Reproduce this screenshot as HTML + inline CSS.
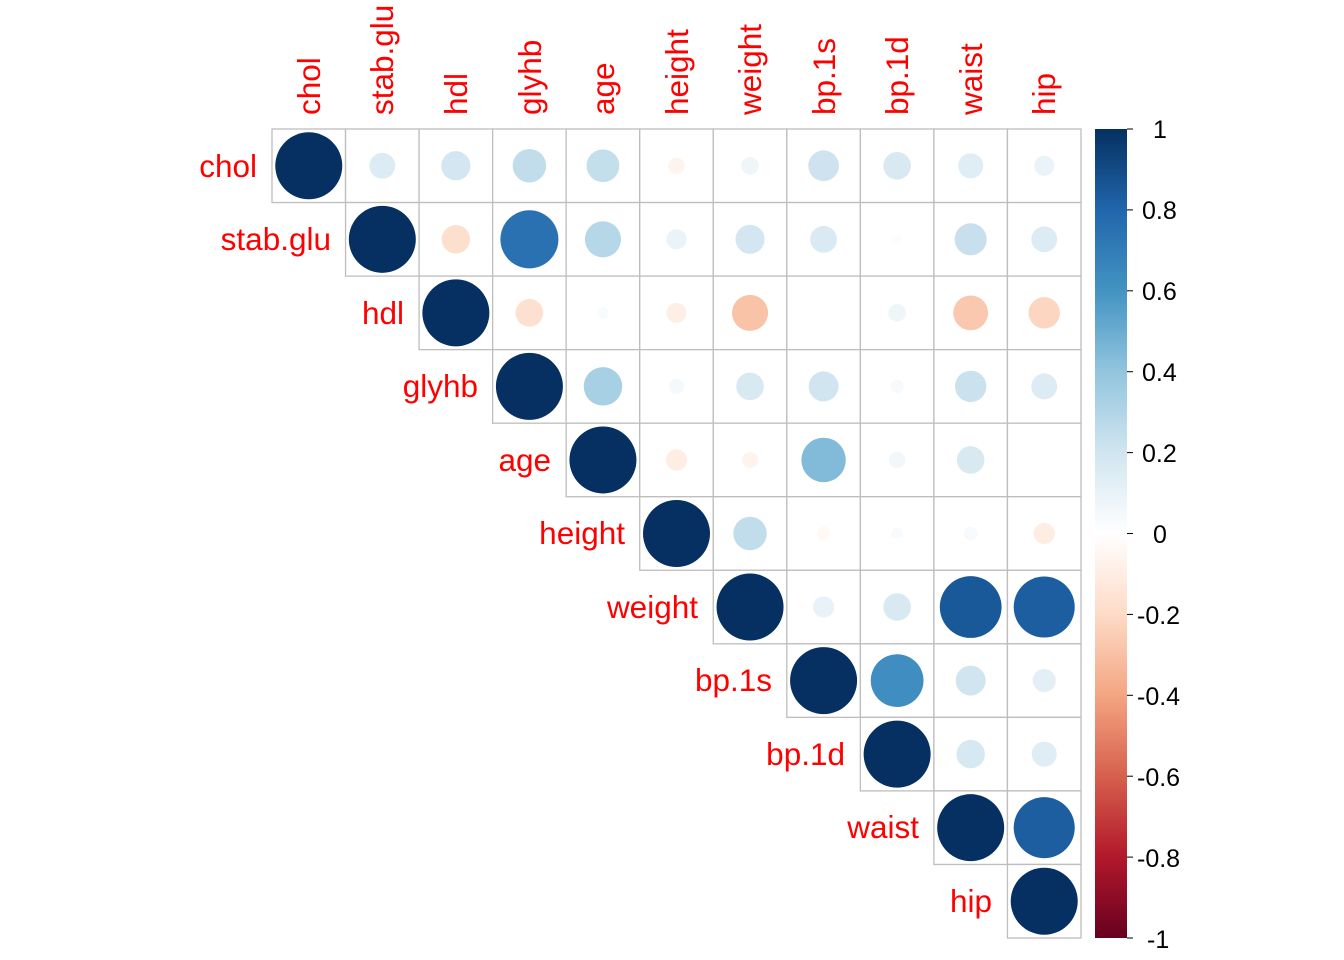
<!DOCTYPE html>
<html><head><meta charset="utf-8"><style>
html,body{margin:0;padding:0;background:#fff}
svg{display:block;font-family:"Liberation Sans",Arial,sans-serif}
.r{fill:#FF0000;font-size:31.5px}
.t{fill:#000;font-size:25px}
</style></head><body>
<svg id="s" width="1344" height="960" xmlns="http://www.w3.org/2000/svg">
<defs><linearGradient id="g" x1="0" y1="1" x2="0" y2="0">
<stop offset="0" stop-color="#67001F"/><stop offset="0.1" stop-color="#B2182B"/><stop offset="0.2" stop-color="#D6604D"/><stop offset="0.3" stop-color="#F4A582"/><stop offset="0.4" stop-color="#FDDBC7"/><stop offset="0.5" stop-color="#FFFFFF"/><stop offset="0.6" stop-color="#D1E5F0"/><stop offset="0.7" stop-color="#92C5DE"/><stop offset="0.8" stop-color="#4393C3"/><stop offset="0.9" stop-color="#2166AC"/><stop offset="1" stop-color="#053061"/></linearGradient></defs>
<g id="cells"></g>
<rect x="1095" y="129" width="32" height="809" fill="url(#g)"/>
<g stroke="#000" stroke-width="1">
<line x1="1127" y1="129" x2="1133" y2="129"/><line x1="1127" y1="209.9" x2="1133" y2="209.9"/><line x1="1127" y1="290.8" x2="1133" y2="290.8"/><line x1="1127" y1="371.7" x2="1133" y2="371.7"/><line x1="1127" y1="452.6" x2="1133" y2="452.6"/><line x1="1127" y1="533.5" x2="1133" y2="533.5"/><line x1="1127" y1="614.4" x2="1133" y2="614.4"/><line x1="1127" y1="695.3" x2="1133" y2="695.3"/><line x1="1127" y1="776.2" x2="1133" y2="776.2"/><line x1="1127" y1="857.1" x2="1133" y2="857.1"/><line x1="1127" y1="938" x2="1133" y2="938"/>
</g>
<g class="t">
<text x="1153" y="138">1</text><text x="1142" y="219">0.8</text><text x="1142" y="300">0.6</text><text x="1142" y="381">0.4</text><text x="1142" y="462">0.2</text><text x="1153" y="543">0</text><text x="1137" y="624">-0.2</text><text x="1137" y="705">-0.4</text><text x="1137" y="786">-0.6</text><text x="1137" y="867">-0.8</text><text x="1147" y="948">-1</text>
</g>
<g class="r" text-anchor="end">
<text x="257" y="177">chol</text>
<text x="331" y="250">stab.glu</text>
<text x="404" y="324">hdl</text>
<text x="478" y="397">glyhb</text>
<text x="551" y="471">age</text>
<text x="625" y="544">height</text>
<text x="698" y="618">weight</text>
<text x="772" y="691">bp.1s</text>
<text x="845" y="765">bp.1d</text>
<text x="919" y="838">waist</text>
<text x="992" y="912">hip</text>
</g>
<g class="r">
<text transform="translate(320,115) rotate(-90)">chol</text>
<text transform="translate(393,115) rotate(-90)">stab.glu</text>
<text transform="translate(467,115) rotate(-90)">hdl</text>
<text transform="translate(541,115) rotate(-90)">glyhb</text>
<text transform="translate(614,115) rotate(-90)">age</text>
<text transform="translate(688,115) rotate(-90)">height</text>
<text transform="translate(761,115) rotate(-90)">weight</text>
<text transform="translate(835,115) rotate(-90)">bp.1s</text>
<text transform="translate(908,115) rotate(-90)">bp.1d</text>
<text transform="translate(982,115) rotate(-90)">waist</text>
<text transform="translate(1055,115) rotate(-90)">hip</text>
</g>
</svg>
<script>
var M=[
[0.15,0.19,0.25,0.24,-0.06,0.07,0.21,0.17,0.14,0.09],
[-0.18,0.75,0.29,0.09,0.19,0.16,0.02,0.23,0.15],
[-0.17,0.03,-0.09,-0.29,0.01,0.07,-0.27,-0.22],
[0.33,0.05,0.17,0.2,0.04,0.22,0.15],
[-0.1,-0.06,0.44,0.06,0.17,0.0],
[0.25,-0.04,0.03,0.04,-0.1],
[0.1,0.17,0.85,0.83],
[0.62,0.2,0.12],
[0.18,0.14],
[0.83]];
var C=["#67001F","#B2182B","#D6604D","#F4A582","#FDDBC7","#FFFFFF","#D1E5F0","#92C5DE","#4393C3","#2166AC","#053061"];
function h(c){return[parseInt(c.substr(1,2),16),parseInt(c.substr(3,2),16),parseInt(c.substr(5,2),16)]}
function col(r){var p=(r+1)/2*10,i=Math.min(9,Math.floor(p)),f=p-i,a=h(C[i]),b=h(C[i+1]);return "rgb("+a.map(function(v,k){return Math.round(v+(b[k]-v)*f)}).join(",")+")"}
var s="",w=73.545,x0=272,y0=129;
for(var i=0;i<11;i++)for(var j=i;j<11;j++){
var r=i==j?1:M[i][j-i-1],x=x0+j*w,y=y0+i*w;
s+='<rect x="'+x+'" y="'+y+'" width="'+w+'" height="'+w+'" fill="#fff" stroke="#BEBEBE" stroke-width="1.3"/>';
var rad=Math.sqrt(Math.abs(r))*33.5;
if(rad>0.5)s+='<circle cx="'+(x+w/2)+'" cy="'+(y+w/2)+'" r="'+rad+'" fill="'+col(r)+'"/>';}
document.getElementById("cells").innerHTML=s;
</script>
</body></html>
